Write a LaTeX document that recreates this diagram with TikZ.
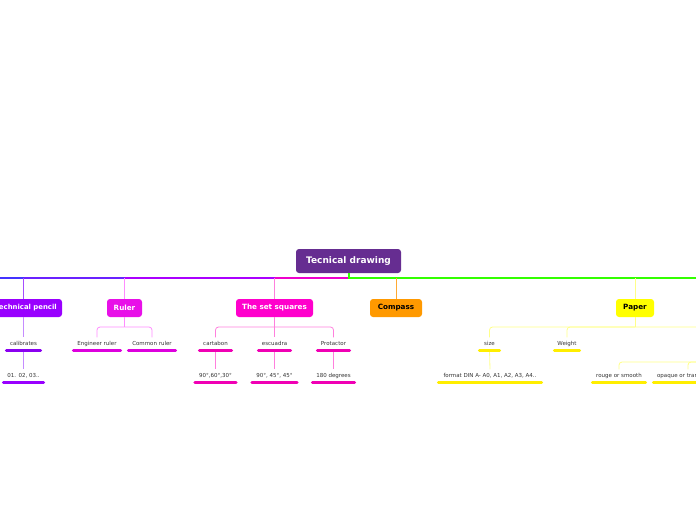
\documentclass[tikz,border=0pt]{standalone}
\usepackage{fontspec}
\setmainfont{DejaVu Sans}
\definecolor{rootc}{HTML}{662D91}
\definecolor{pencilc}{HTML}{9900FF}
\definecolor{pencilL}{HTML}{A64DFF}
\definecolor{pencilS}{HTML}{C58CFF}
\definecolor{pencilU}{HTML}{8A00F0}
\definecolor{rulerc}{HTML}{E810E8}
\definecolor{rulerS}{HTML}{FF8CFF}
\definecolor{rulerU}{HTML}{DD00DD}
\definecolor{sqc}{HTML}{FF00CC}
\definecolor{sqS}{HTML}{FF7FDD}
\definecolor{sqU}{HTML}{F000B4}
\definecolor{compc}{HTML}{FF9900}
\definecolor{compS}{HTML}{FFAA33}
\definecolor{paperc}{HTML}{FFFF00}
\definecolor{paperS}{HTML}{FFFF88}
\definecolor{paperU}{HTML}{FFEE00}
\definecolor{mainA}{HTML}{4433FF}
\definecolor{mainB}{HTML}{6A22FF}
\definecolor{mainC}{HTML}{AA00FF}
\definecolor{mainD}{HTML}{EE00CC}
\definecolor{grn}{HTML}{33FF00}
\definecolor{txt}{HTML}{333333}
\begin{document}
\begin{tikzpicture}[x=1pt,y=-1pt,
  box/.style={rounded corners=3pt, minimum height=18pt, inner sep=0pt,
    font=\bfseries\fontsize{7.2}{8}\selectfont, text=white},
  leaf/.style={anchor=south, inner xsep=0pt, inner ysep=3.3pt, text height=4.4pt,
    text depth=1.2pt, font=\fontsize{5.5}{6.5}\selectfont, text=txt},
  ul/.style={line width=3pt, line cap=round},
  conn/.style={line width=0.8pt},
  bus/.style={line width=0.8pt, rounded corners=3pt},
  mainln/.style={line width=2pt},
]
\path[use as bounding box] (0,0) rectangle (696,520);
\clip (0,0) rectangle (696,520);

% junctions on the main line
\coordinate (offL) at (-10,278);
\coordinate (j1) at (23.5,278);
\coordinate (j2) at (124.5,278);
\coordinate (j3) at (274.5,278);
\coordinate (hub) at (348,278);
\coordinate (j4) at (396,278);
\coordinate (j5) at (635,278);
\coordinate (offR) at (710,278);

% root
\node[box, fill=rootc, minimum width=105pt, minimum height=24pt,
  font=\bfseries\fontsize{9}{10}\selectfont] (root) at (348.5,261) {Tecnical drawing};

% main line
\draw[mainln, mainA] (offL) -- (j1);
\draw[mainln, mainB] (j1) -- (j2);
\draw[mainln, mainC] (j2) -- (j3);
\draw[mainln, mainD] (j3) -- (hub);
\draw[mainln, grn] (root.south) |- (offR);

% branches
\node[box, fill=pencilc, minimum width=72pt, font=\bfseries\fontsize{6.9}{8}\selectfont] (pencil) at (26,308) {Technical pencil};
\node[box, fill=rulerc, minimum width=35pt] (ruler) at (124.5,308) {Ruler};
\node[box, fill=sqc, minimum width=77pt] (sq) at (274.5,308) {The set squares};
\node[box, fill=compc, minimum width=52pt, text=black] (comp) at (396,308) {Compass};
\node[box, fill=paperc, minimum width=38pt, text=black] (paper) at (635,308) {Paper};

\draw[conn, pencilL] (j1) -- (j1 |- pencil.north);
\draw[conn, rulerS] (j2) -- (ruler.north);
\draw[conn, sqS] (j3) -- (sq.north);
\draw[conn, compS] (j4) -- (comp.north);
\draw[conn, paperS] (j5) -- (paper.north);

% Technical pencil children
\node[leaf, minimum width=34pt] (calib) at (23.5,350) {calibrates};
\node[leaf, minimum width=40pt] (nums) at (23.5,382) {01. 02, 03..};
\draw[conn, pencilS] (calib.north |- pencil.south) -- (calib.north);
\draw[conn, pencilS] (calib.south) -- (nums.north);
\draw[ul, pencilU] (calib.south west) -- (calib.south east);
\draw[ul, pencilc] (nums.south west) -- (nums.south east);

% Ruler children
\coordinate (rbus) at (124.5,327);
\node[leaf, minimum width=47pt] (eng) at (97,350) {Engineer ruler};
\node[leaf, minimum width=47pt] (com) at (152,350) {Common ruler};
\draw[conn, rulerS] (ruler.south) -- (rbus);
\draw[bus, rulerS] (rbus) -| (eng.north);
\draw[bus, rulerS] (rbus) -| (com.north);
\draw[ul, rulerU] (eng.south west) -- (eng.south east);
\draw[ul, rulerU] (com.south west) -- (com.south east);

% Set squares children
\coordinate (sbus) at (274.5,327);
\node[leaf, minimum width=32pt] (cart) at (215.5,350) {cartabon};
\node[leaf, minimum width=32pt] (escu) at (274.5,350) {escuadra};
\node[leaf, minimum width=32pt] (prot) at (333.5,350) {Protactor};
\node[leaf, minimum width=41pt] (g1) at (215.5,382) {90°,60°,30°};
\node[leaf, minimum width=45pt] (g2) at (274.5,382) {90°, 45°, 45°};
\node[leaf, minimum width=42pt] (g3) at (333.5,382) {180 degrees};
\draw[conn, sqS] (sq.south) -- (sbus);
\draw[bus, sqS] (sbus) -| (cart.north);
\draw[bus, sqS] (sbus) -| (prot.north);
\draw[conn, sqS] (sbus) -- (escu.north);
\draw[conn, sqS] (cart.south) -- (g1.north);
\draw[conn, sqS] (escu.south) -- (g2.north);
\draw[conn, sqS] (prot.south) -- (g3.north);
\foreach \n in {cart,escu,prot,g1,g2,g3}
  \draw[ul, sqU] (\n.south west) -- (\n.south east);

% Paper children
\coordinate (pbus) at (635,327);
\coordinate (pthird) at (750,338);
\coordinate (pthirdU) at (750,350);
\coordinate (ptbus) at (750,362);
\node[leaf, minimum width=20pt] (size) at (489.5,350) {size};
\node[leaf, minimum width=25pt] (weight) at (567,350) {Weight};
\node[leaf, minimum width=103pt] (fmt) at (490,382) {format DIN A- A0, A1, A2, A3, A4..};
\node[leaf, minimum width=53pt] (rouge) at (619,382) {rouge or smooth};
\node[leaf, minimum width=69pt] (opaque) at (688,382) {opaque or transparent};
\draw[conn, paperS] (paper.south) -- (pbus);
\draw[bus, paperS] (pbus) -| (size.north);
\draw[bus, paperS] (pbus) -| (weight.north);
\draw[bus, paperS] (pbus) -| (pthird);
\draw[conn, paperS] (size.south) -- (fmt.north);
\draw[conn, paperS] (pthirdU) -- (ptbus);
\draw[bus, paperS] (ptbus) -| (rouge.north);
\draw[bus, paperS] (ptbus) -| (opaque.north);
\foreach \n in {size,weight,fmt,rouge,opaque}
  \draw[ul, paperU] (\n.south west) -- (\n.south east);
\end{tikzpicture}
\end{document}
